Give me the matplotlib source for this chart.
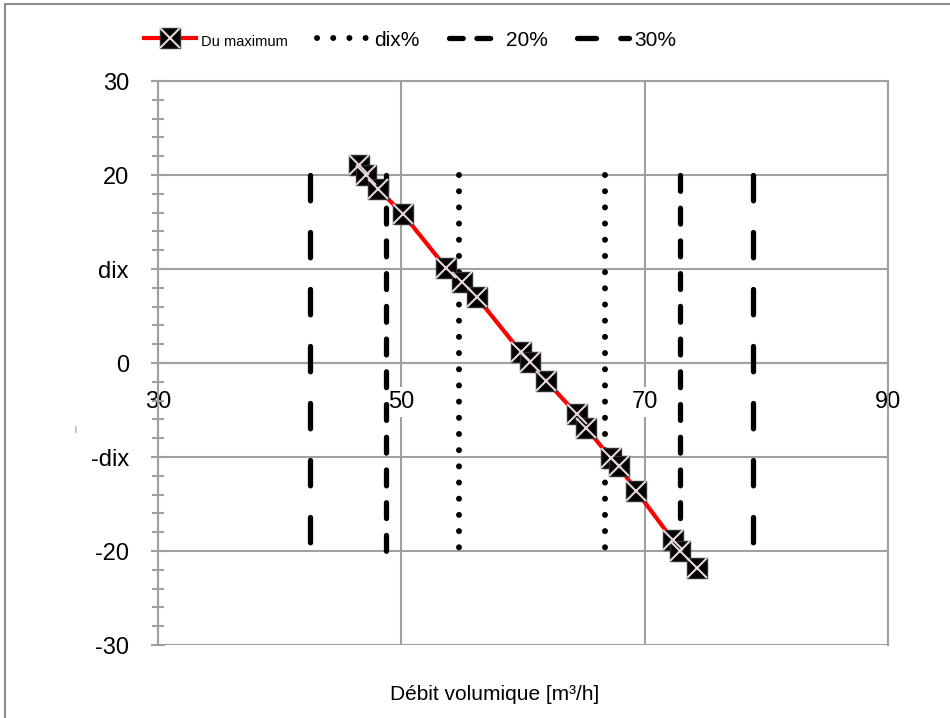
import matplotlib.pyplot as plt
from matplotlib.lines import Line2D
from matplotlib.patches import Rectangle
from matplotlib.ticker import MultipleLocator

plt.rcParams['font.family'] = ['Liberation Sans', 'DejaVu Sans']

# Points mesurés (débit, écart)
debit = [46.5, 47.1, 48.1, 50.1, 53.7, 55.0, 56.2, 59.8, 60.6, 61.9,
         64.4, 65.2, 67.2, 67.9, 69.3, 72.3, 72.9, 74.3]
ecart = [21.1, 20.0, 18.5, 15.9, 10.1, 8.6, 7.0, 1.2, 0.1, -1.9,
         -5.4, -6.9, -10.1, -11.0, -13.6, -18.8, -20.0, -21.8]

# Limites verticales
limites_10 = [54.7, 66.7]
limites_20 = [48.7, 72.9]
limites_30 = [42.5, 78.9]
limites_y = [20, -20]

yticks = [-30, -20, -10, 0, 10, 20, 30]
ytick_labels = ['-30', '-20', '-dix', '0', 'dix', '20', '30']
xticks = [30, 50, 70, 90]
xtick_labels = ['30', '50', '70', '90']
legend_labels = ['Du maximum', 'dix%', '20%', '30%']

grey = '#a0a0a0'
lw = 3.8
ls_10 = (0, (0.01, 2.7))
ls_20 = (0, (3.0, 3.2))
ls_30 = (0, (4.8, 6.0))

fig = plt.figure(figsize=(9.5, 7.18), dpi=100)
ax = fig.add_axes([158 / 950, 1 - 645 / 718, (888 - 158) / 950, (645 - 81) / 718])

# cadre autour du graphique
fig.patches.append(Rectangle((5 / 950, -0.1), 1.2, 1.1 - 4 / 718, transform=fig.transFigure,
                             fill=False, edgecolor='#8c8c8c', lw=1.5))

ax.set_xlim(30, 90)
ax.set_ylim(-30, 30)
ax.set_yticks(yticks)
ax.set_yticklabels(ytick_labels)
ax.set_xticks(xticks)
ax.set_xticklabels(xtick_labels)
ax.yaxis.set_minor_locator(MultipleLocator(2))
ax.grid(True, which='major', color=grey, lw=1.5, zorder=0)
ax.set_axisbelow(True)

for s in ['left', 'right', 'top', 'bottom']:
    ax.spines[s].set_color(grey)
    ax.spines[s].set_linewidth(1.5)
ax.spines['bottom'].set_position(('data', 0))

ax.tick_params(axis='x', length=0, pad=20, labelsize=17)
ax.tick_params(axis='y', which='both', direction='inout', color=grey, width=1.5, labelsize=17, pad=16)
ax.tick_params(axis='y', which='major', length=10)
ax.tick_params(axis='y', which='minor', length=8)
for lbl in ax.get_xticklabels():
    lbl.set_bbox(dict(facecolor='white', edgecolor='none', pad=3))

# lignes verticales
for x in limites_10:
    ax.plot([x, x], limites_y, color='black', lw=4.3, ls=ls_10, dash_capstyle='round', zorder=3)
for x in limites_20:
    ax.plot([x, x], limites_y, color='black', lw=lw, ls=ls_20, dash_capstyle='round', zorder=3)
for x in limites_30:
    ax.plot([x, x], limites_y, color='black', lw=lw, ls=ls_30, dash_capstyle='round', zorder=3)

# courbe
ax.plot(debit, ecart, color='red', lw=3, zorder=4)
ax.plot(debit, ecart, ls='none', marker='s', ms=14, mfc='black', mec='#303030', zorder=5)
ax.plot(debit, ecart, ls='none', marker='x', ms=14, mec='#e6d5d5', mew=1.5, zorder=6)

# légende
h_max = (Line2D([], [], color='red', lw=3, marker='s', ms=14, mfc='black', mec='#303030'),
         Line2D([], [], ls='none', marker='x', ms=14, mec='#e6d5d5', mew=1.5))
h_10 = Line2D([], [], color='black', lw=4.3, ls=ls_10, dash_capstyle='round')
h_20 = Line2D([], [], color='black', lw=lw, ls=(0, (2.6, 2.6)), dash_capstyle='round')
h_30 = Line2D([], [], color='black', lw=lw, ls=(0, (3.6, 4.6)), dash_capstyle='round')

leg = fig.legend([h_max, h_10, h_20, h_30], legend_labels, loc='center',
                 bbox_to_anchor=(410 / 950, 1 - 40 / 718), ncol=4, frameon=False,
                 fontsize=15, handlelength=2.5, columnspacing=1.4, handletextpad=0.25,
                 numpoints=1)
leg.get_texts()[0].set_fontsize(10.5)

fig.text(495 / 950, 1 - 695 / 718, 'Débit volumique [m³/h]', fontsize=15,
         ha='center', va='center')
fig.text(75 / 950, 1 - 430 / 718, '|', fontsize=5, color='#555555', ha='center', va='center')

fig.savefig('out.png', dpi=100)
